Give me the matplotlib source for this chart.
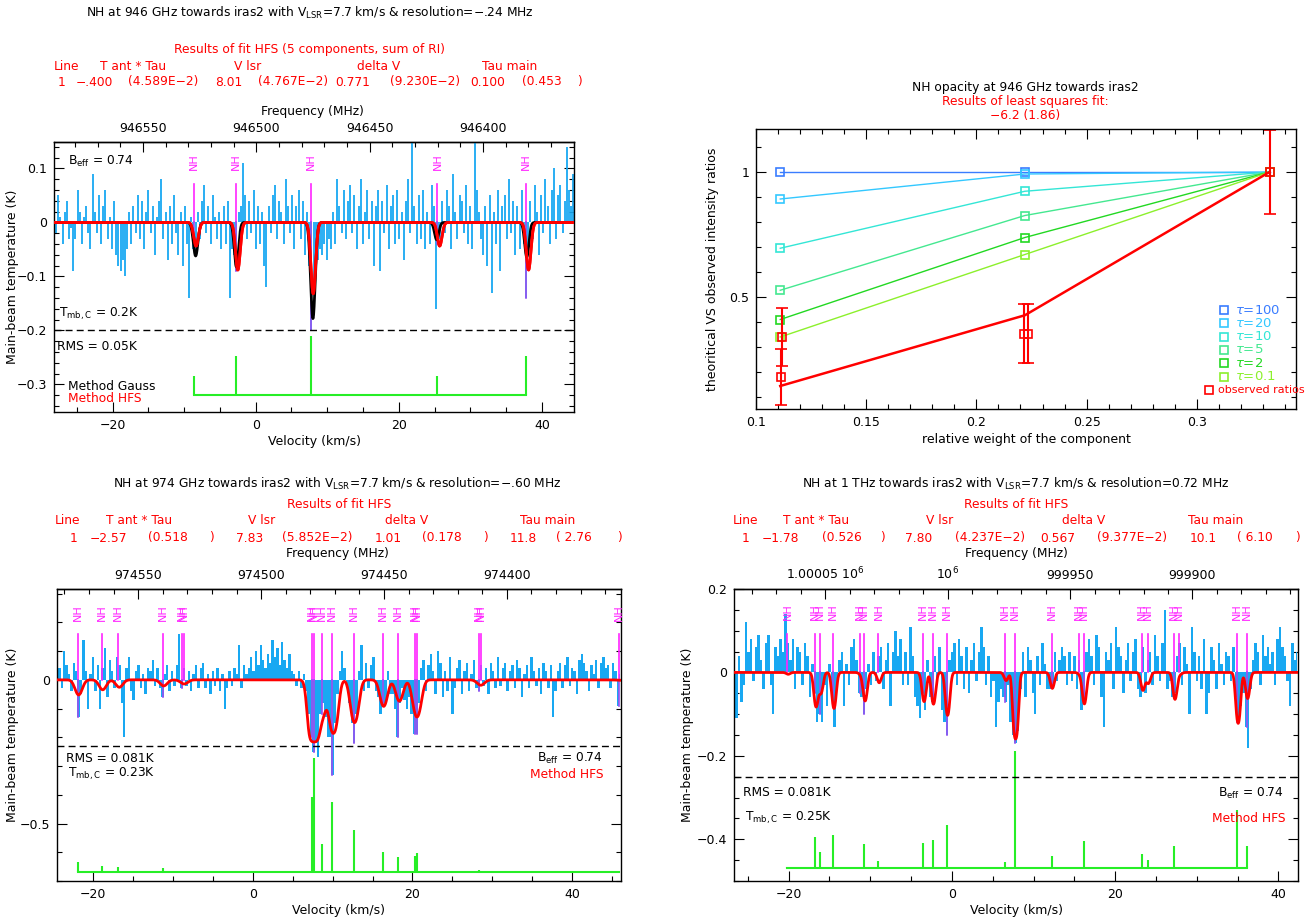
import numpy as np
import matplotlib
matplotlib.use('Agg')
import matplotlib.pyplot as plt
from matplotlib.ticker import MultipleLocator, FuncFormatter

W, H = 1305, 917                  # output size in pixels
plt.rcParams['font.family'] = 'DejaVu Sans'
plt.rcParams['font.size'] = 9
plt.rcParams['axes.linewidth'] = 1.0

BLUE = '#18a8f2'
MAGENTA = '#ff24ff'
PURPLE = '#9a50f0'
GREEN = '#26ee26'
RED = '#ff0000'

# ---------------- NH at 946 GHz (top left) ----------------
tl_v0, tl_dv = -28.2, 0.3                     # first channel and channel width (km/s)
tl_tmb = np.array([                           # channel temperatures, 0.01 K
    3, -2, 5, 1, -4, 2, 4, -3, -1, -9,
    -3, 6, 2, -4, 1, 3, -2, -5, 9, 2,
    -2, 5, -4, 3, 6, -3, 1, -5, 4, -6,
    -8, -9, -7, -10, -5, 2, -4, 3, -2, 5,
    -3, 4, -5, 2, 6, -2, 3, -6, 1, 4,
    8, -3, 2, -7, 3, -4, 5, -2, -6, 2,
    -8, 3, -4, -14, 1, -5, -6, 2, -3, 4,
    7, -2, 3, -4, 5, 1, -3, 2, -5, 3,
    -4, 4, -14, -5, -6, -9, 2, 3, 11, 5,
    -3, 4, -2, 6, -5, 3, -4, 2, -8, -12,
    3, -2, 5, 7, -3, 4, 2, -4, 8, 3,
    -2, 5, -5, 3, 6, -3, 4, -6, 2, -8,
    -20, -12, -6, -7, -5, -6, -4, -7, -3, -5,
    2, -4, 8, 3, -2, 6, -3, 4, 7, -2,
    5, -5, 3, 8, -4, 2, 6, -3, 4, -8,
    3, 6, -9, 4, -2, 7, -5, 3, 5, -4,
    6, -3, 2, -7, 4, 8, -2, 15, 3, -4,
    5, -3, 6, -5, 2, -4, 7, 3, -16, -4,
    -3, 4, -2, 6, 3, -5, 9, 2, -3, 5,
    4, -2, 7, -4, 3, -5, 15, 6, 2, -3,
    -6, 3, -8, 5, -13, 2, -4, 6, -9, 3,
    5, -3, 8, -2, 4, -6, 3, -5, 6, -4,
    -14, -5, 4, -3, 7, 2, -6, 5, -2, 8,
    3, -4, 6, 10, -3, 5, 7, -2, 4, 14,
    6, 3, 9]) * 0.01
tl_comp_v = [-8.65, -2.81, 7.73, 25.41, 37.84]          # hyperfine components (km/s)
tl_comp_ri = [0.036, 0.073, 0.110, 0.036, 0.073]         # stick heights (K)
tl_hfs = (-0.400, 8.01, 0.771, 0.100)                    # T ant*Tau, V lsr, delta V, Tau main
tl_gauss_v = [-8.4, -2.7, 8.0, 25.3, 37.9]
tl_gauss_t = [-0.062, -0.082, -0.178, -0.032, -0.064]
tl_gauss_w = [0.75, 0.70, 0.75, 0.70, 0.70]

# ---------------- NH at 974 GHz (bottom left) ----------------
bl_v0, bl_dv = -24.5, 0.3
bl_tmb = np.array([
    7, 4, -3, 10, 5, 2, -4, 6, 3, -13,
    -5, 14, 3, -10, 2, 8, -4, 5, -10, 4,
    11, -6, 7, 3, -3, 8, 5, -8, -20, 4,
    8, -4, -7, 3, 5, -3, 2, -5, 4, 3,
    7, -2, 4, -3, -6, 2, 5, -4, 3, -2,
    5, 16, -3, 4, -2, 3, -4, 2, 5, -3,
    4, 6, -3, 2, -5, 3, -2, 4, -4, 2,
    -10, -3, 3, -2, 4, 2, 12, -3, 5, 2,
    4, 8, 3, 10, 5, 12, 7, 4, 9, 6,
    14, 8, 11, 5, 13, 7, 4, 9, 3, 2,
    -2, 3, -3, 2, -4, -12, -20, -25, -22, -27,
    -12, -8, -13, -20, -20, -33, -15, -5, 3, 10,
    4, -3, -8, -15, -22, -12, 3, 12, -4, 6,
    -3, 5, 8, -4, -6, -12, -9, -8, 3, -5,
    -5, -10, -20, -8, -3, -7, -10, -6, -12, -19,
    -19, -8, 4, 7, -4, 5, 9, 3, -5, 10,
    6, -6, 3, -4, 8, -12, -3, 4, 7, -5,
    3, 6, -4, 2, 7, -3, -4, 5, -2, 4,
    -5, 6, 3, -3, 8, -2, 4, 6, -4, 3,
    5, -3, 7, 4, -6, 2, 5, -3, 8, 3,
    -2, 4, -5, 6, 3, -3, 5, -13, -4, 3,
    6, -3, 5, 8, -2, 4, 3, -5, 7, 9,
    6, 3, -4, 5, 2, 7, -3, 6, 8, 4,
    5, -3, 6, 3, -9, 2]) * 0.01
bl_comp_v = [-21.92, -18.91, -16.83, -11.27, -8.83, -8.62, 7.38, 7.64, 8.62,
             9.97, 12.62, 16.26, 18.23, 20.26, 20.57, 28.31, 28.57, 45.82]
bl_comp_ri = [0.035, 0.022, 0.016, 0.013, 0.004, 0.005, 0.260, 0.396, 0.097,
              0.245, 0.146, 0.070, 0.053, 0.055, 0.067, 0.007, 0.005, 0.001]
bl_hfs = (-2.57, 7.83, 1.01, 11.8)

# ---------------- NH at 1 THz (bottom right) ----------------
br_v0, br_dv = -26.7, 0.3
br_tmb = np.array([
    -9, -11, 4, -7, -3, 12, 5, 8, -2, 6,
    9, 3, -4, 7, 9, -3, -10, 6, 4, 8,
    5, 14, 7, 3, 8, -4, 6, 5, -3, 7,
    4, -6, 2, -5, -12, -10, -12, -3, -8, 2,
    -6, -13, -4, 3, 5, -8, 2, -3, 6, 8,
    3, -5, -6, -10, -4, 2, -3, 5, -2, 4,
    6, -4, 3, 7, -8, 5, 10, 4, 8, -3,
    5, -3, 11, 4, -6, -8, -11, -5, -9, 3,
    -6, -7, 4, -3, 6, -9, -12, -15, 3, 5,
    7, -3, 8, 4, -4, 6, -5, 3, 7, -2,
    5, 11, 6, -3, 4, -6, -2, -13, -7, -4,
    -6, -7, -3, -12, -15, -17, -14, -4, 5, -6,
    6, 3, -5, -10, 4, -3, 7, 2, -4, -4,
    -3, 5, -2, 3, 6, 4, -3, 5, -2, 4,
    -4, 3, -9, -7, 5, 8, 4, -3, 9, 6,
    -6, -13, 5, 3, 7, -4, 11, 6, 4, -5,
    3, 7, -2, 5, 8, -4, -6, 6, -5, 3,
    5, -3, 9, 4, -2, 7, 15, -4, -2, -6,
    -5, 4, 7, -3, 6, 2, -10, 11, 5, -2,
    4, -4, 8, -10, -5, 6, 3, -4, 7, 2,
    -3, 5, 4, -2, 6, -6, -12, -8, -5, -13,
    -18, -4, 3, 7, 5, -3, 9, 4, 6, 2,
    5, -3, 8, 11, 6, 4, -2, -8, 7, 3,
    5]) * 0.01
br_comp_v = [-20.16, -16.75, -16.13, -14.55, -11.26, -10.73, -9.01, -3.51, -2.36,
             -0.63, 6.54, 7.70, 12.20, 15.60, 16.13, 23.30, 23.98, 27.23, 27.85,
             34.97, 36.13]
br_comp_ri = [0.003, 0.074, 0.038, 0.080, 0.003, 0.058, 0.018, 0.060, 0.067,
              0.104, 0.014, 0.280, 0.029, 0.003, 0.066, 0.033, 0.019, 0.054, 0.003,
              0.140, 0.052]
br_hfs = (-1.78, 7.80, 0.567, 10.1)

# ---------------- opacity plot (top right) ----------------
tr_weight = [0.111, 0.222, 0.333]
tr_tau = ['100', '20', '10', '5', '2', '0.1']
tr_ratio = [[1.000, 1.000, 1.0],
            [0.892, 0.992, 1.0],
            [0.695, 0.923, 1.0],
            [0.527, 0.826, 1.0],
            [0.410, 0.738, 1.0],
            [0.340, 0.670, 1.0]]
tr_colors = ['#3a7dff', '#33c8ff', '#33e6d6', '#44e890', '#22d822', '#8cf02c']
obs_x = [0.1112, 0.1118, 0.2215, 0.2232, 0.3332]
obs_y = [0.181, 0.340, 0.354, 0.354, 1.0]
obs_err = [0.113, 0.117, 0.117, 0.117, 0.169]
fit_y = [0.144, 0.427, 1.0]

fig = plt.figure(figsize=(W / 100, H / 100), dpi=100)


def ftext(x, y, s, **kw):
    # place text with pixel coordinates of the reference picture
    kw.setdefault('va', 'center')
    kw.setdefault('fontsize', 8.8)
    fig.text(x / W, 1 - y / H, s, **kw)


def make_axes(x0, y0, x1, y1):
    ax = fig.add_axes([x0 / W, 1 - y1 / H, (x1 - x0) / W, (y1 - y0) / H])
    ax.px = (x0, x1)
    return ax


def ylabel_at(ax, text, xpx):
    # y label centred at a given pixel column
    ax.set_ylabel(text, va='center')
    x0, x1 = ax.px
    ax.yaxis.set_label_coords((xpx - x0) / (x1 - x0), 0.5)


def fmt_num(x, pos):
    s = '%.6g' % x
    if s in ('0', '-0'):
        return '0'
    return s.replace('-', '\u2212')


def style_axes(ax, xmaj, xmin, ymaj, ymin, top=True):
    ax.xaxis.set_major_locator(MultipleLocator(xmaj))
    ax.xaxis.set_minor_locator(MultipleLocator(xmin))
    ax.yaxis.set_major_locator(MultipleLocator(ymaj))
    ax.yaxis.set_minor_locator(MultipleLocator(ymin))
    ax.xaxis.set_major_formatter(FuncFormatter(fmt_num))
    ax.yaxis.set_major_formatter(FuncFormatter(fmt_num))
    ax.tick_params(which='both', direction='in', top=top, right=True, width=0.8, labelsize=9)
    ax.tick_params(which='major', length=7, pad=5)
    ax.tick_params(which='minor', length=3.5)


def hfs_profile(v, comp_v, comp_ri, tant_tau, vlsr, dv, tau_main):
    # HFS model: relative intensities normalised to one, shifted to the fitted V lsr
    ri = np.array(comp_ri) / np.sum(comp_ri)
    sig = dv / 2.3548
    tau = np.zeros_like(v)
    for c, r in zip(comp_v, ri):
        tau += tau_main * r * np.exp(-0.5 * ((v - c - (vlsr - 7.7)) / sig) ** 2)
    return tant_tau / tau_main * (1 - np.exp(-tau))


def draw_spectrum(ax, v0, dv, tmb, comp_v, comp_ri, hfs, base, mag_top, nh_y, tmbc, thin):
    v = v0 + dv * np.arange(len(tmb))
    if thin:
        ax.vlines(v, 0, tmb, color=BLUE, lw=1.3, zorder=2)
    else:
        ax.fill_between(v, tmb, 0, step='mid', color=BLUE, lw=0, zorder=2)
    for c in comp_v:
        low = min(0, tmb[np.argmin(np.abs(v - c))])
        ax.plot([c, c], [0, mag_top], color=MAGENTA, lw=1.2, zorder=3)
        ax.plot([c, c], [low, 0], color=PURPLE, lw=1.2, zorder=3)
        ax.text(c, nh_y, 'NH', rotation=90, color=MAGENTA, fontsize=8,
                ha='center', va='center', zorder=3)
    # stick spectrum of the hyperfine components
    ax.plot([min(comp_v), max(comp_v)], [base, base], color=GREEN, lw=1.5, zorder=3)
    ax.vlines(comp_v, base, base + np.array(comp_ri), color=GREEN, lw=1.5, zorder=3)
    vv = np.linspace(ax.get_xlim()[0], ax.get_xlim()[1], 3000)
    ax.plot(vv, hfs_profile(vv, comp_v, comp_ri, *hfs), color=RED, lw=2, zorder=5)
    ax.axhline(-tmbc, color='k', ls=(0, (5, 3)), lw=1, zorder=4)
    ax.set_xlabel('Velocity (km/s)', labelpad=2)


def freq_axis(ax, f0, k, ticks, labels=None):
    sec = ax.secondary_xaxis('top', functions=(lambda v: f0 - k * v, lambda f: (f0 - f) / k))
    if labels is None:
        sec.set_xticks(ticks, ['%d' % t for t in ticks])
    else:
        sec.set_xticks(ticks, labels)
    sec.xaxis.set_minor_locator(MultipleLocator(10))
    sec.tick_params(which='both', direction='in', width=0.8, labelsize=9)
    sec.tick_params(which='major', length=7, pad=5)
    sec.tick_params(which='minor', length=3.5)
    return sec


# ================= top left =================
ax1 = make_axes(54, 142, 574, 412)
ax1.set_xlim(-28.2, 44.5)
ax1.set_ylim(-0.351, 0.149)
style_axes(ax1, 20, 5, 0.1, 0.02, top=False)
draw_spectrum(ax1, tl_v0, tl_dv, tl_tmb, tl_comp_v, tl_comp_ri, tl_hfs,
              -0.32, 0.072, 0.112, 0.2, thin=True)
ylabel_at(ax1, 'Main-beam temperature (K)', 13)
vv = np.linspace(-28.2, 44.5, 3000)
gauss = np.zeros_like(vv)
for c, t, w in zip(tl_gauss_v, tl_gauss_t, tl_gauss_w):
    gauss += t * np.exp(-0.5 * ((vv - c) / (w / 2.3548)) ** 2)
ax1.plot(vv, gauss, color='k', lw=2, zorder=4)
ax1.plot(vv, hfs_profile(vv, tl_comp_v, tl_comp_ri, *tl_hfs), color=RED, lw=2, zorder=5)
freq_axis(ax1, 946500.3, 3.157, [946550, 946500, 946450, 946400])
ftext(312, 112, 'Frequency (MHz)', ha='center')
ftext(68, 161, 'B$_{\\rm eff}$ = 0.74')
ftext(59, 314, 'T$_{\\rm mb,C}$ = 0.2K')
ftext(57, 347, 'RMS = 0.05K')
ftext(68, 386, 'Method Gauss')
ftext(68, 398, 'Method HFS', color=RED)

ftext(310, 13, 'NH at 946 GHz towards iras2 with V$_{\\rm LSR}$=7.7 km/s & resolution=\u2212.24 MHz',
      ha='center')
ftext(310, 50, 'Results of fit HFS (5 components, sum of RI)', ha='center', color=RED)
for x, s in [(54, 'Line'), (100, 'T ant * Tau'), (234, 'V lsr'), (357, 'delta V'), (482, 'Tau main')]:
    ftext(x, 66, s, color=RED)
for x, s in [(58, '1'), (76, '\u2212.400'), (128, '(4.589E\u22122)'), (215, '8.01'),
             (258, '(4.767E\u22122)'), (335, '0.771'), (390, '(9.230E\u22122)'),
             (470, '0.100'), (522, '(0.453'), (577, ')')]:
    ftext(x, 82, s, color=RED)

# ================= top right =================
ax2 = make_axes(756, 129, 1296, 409)
ax2.set_xlim(0.1, 0.345)
ax2.set_ylim(0.052, 1.172)
style_axes(ax2, 0.05, 0.01, 0.5, 0.1)
for ratio, col in zip(tr_ratio, tr_colors):
    ax2.plot(tr_weight, ratio, color=col, lw=1, marker='s', ms=5.5, mfc='none', mew=1.2)
ax2.plot(tr_weight, fit_y, color=RED, lw=1.8)
ax2.errorbar(obs_x, obs_y, yerr=obs_err, fmt='s', ms=5.5, mfc='none', mec=RED, mew=1.2,
             ecolor=RED, elinewidth=1.5, capsize=4, capthick=1.5)
ax2.set_xlabel('relative weight of the component', labelpad=3)
ylabel_at(ax2, 'theoritical VS observed intensity ratios', 712)
ftext(1025, 88, 'NH opacity at 946 GHz towards iras2', ha='center')
ftext(1025, 102, 'Results of least squares fit:', ha='center', color=RED)
ftext(1025, 116, '\u22126.2 (1.86)', ha='center', color=RED)
for i, (t, col) in enumerate(zip(tr_tau, tr_colors)):
    y = 310 + 13.3 * i
    ax2.plot([1224 / W], [1 - y / H], 's', ms=5.5, mfc='none', mec=col, mew=1.2,
             transform=fig.transFigure, clip_on=False)
    ftext(1235, y, '$\\tau$=' + t, color=col, fontsize=9.5)
ax2.plot([1209 / W], [1 - 390 / H], 's', ms=5.5, mfc='none', mec=RED, mew=1.2,
         transform=fig.transFigure, clip_on=False)
ftext(1218, 390, 'observed ratios', color=RED, fontsize=8)

# ================= bottom left =================
ax3 = make_axes(57, 589, 621, 881)
ax3.set_xlim(-24.5, 46.1)
ax3.set_ylim(-0.70, 0.316)
style_axes(ax3, 20, 5, 0.5, 0.1, top=False)
draw_spectrum(ax3, bl_v0, bl_dv, bl_tmb, bl_comp_v, bl_comp_ri, bl_hfs,
              -0.669, 0.16, 0.233, 0.23, thin=False)
ylabel_at(ax3, 'Main-beam temperature (K)', 13)
freq_axis(ax3, 974503.4, 3.2506, [974550, 974500, 974450, 974400])
ftext(337, 553, 'Frequency (MHz)', ha='center')
ftext(66, 758, 'RMS = 0.081K')
ftext(68, 774, 'T$_{\\rm mb,C}$ = 0.23K')
ftext(603, 758, 'B$_{\\rm eff}$ = 0.74', ha='right')
ftext(603, 775, 'Method HFS', ha='right', color=RED)
ftext(337, 484, 'NH at 974 GHz towards iras2 with V$_{\\rm LSR}$=7.7 km/s & resolution=\u2212.60 MHz',
      ha='center')
ftext(339, 505, 'Results of fit HFS', ha='center', color=RED)
for x, s in [(55, 'Line'), (106, 'T ant * Tau'), (248, 'V lsr'), (385, 'delta V'), (520, 'Tau main')]:
    ftext(x, 521, s, color=RED)
for x, s in [(70, '1'), (90, '\u22122.57'), (148, '(0.518'), (209, ')'), (236, '7.83'),
             (282, '(5.852E\u22122)'), (375, '1.01'), (422, '(0.178'), (483, ')'),
             (510, '11.8'), (556, '( 2.76'), (617, ')')]:
    ftext(x, 538, s, color=RED)

# ================= bottom right =================
ax4 = make_axes(734, 589, 1298, 881)
ax4.set_xlim(-26.7, 42.4)
ax4.set_ylim(-0.50, 0.2)
style_axes(ax4, 20, 5, 0.2, 0.05, top=False)
draw_spectrum(ax4, br_v0, br_dv, br_tmb, br_comp_v, br_comp_ri, br_hfs,
              -0.469, 0.092, 0.146, 0.25, thin=False)
ylabel_at(ax4, 'Main-beam temperature (K)', 688)
freq_axis(ax4, 999998.3, 3.3356, [1000050, 1000000, 999950, 999900],
          ['1.00005 10$^6$', '10$^6$', '999950', '999900'])
ftext(1016, 553, 'Frequency (MHz)', ha='center')
ftext(743, 793, 'RMS = 0.081K')
ftext(745, 818, 'T$_{\\rm mb,C}$ = 0.25K')
ftext(1284, 793, 'B$_{\\rm eff}$ = 0.74', ha='right')
ftext(1286, 818, 'Method HFS', ha='right', color=RED)
ftext(1016, 484, 'NH at 1 THz towards iras2 with V$_{\\rm LSR}$=7.7 km/s & resolution=0.72 MHz',
      ha='center')
ftext(1016, 505, 'Results of fit HFS', ha='center', color=RED)
for x, s in [(733, 'Line'), (783, 'T ant * Tau'), (926, 'V lsr'), (1062, 'delta V'), (1188, 'Tau main')]:
    ftext(x, 521, s, color=RED)
for x, s in [(742, '1'), (762, '\u22121.78'), (822, '(0.526'), (880, ')'), (905, '7.80'),
             (955, '(4.237E\u22122)'), (1040, '0.567'), (1097, '(9.377E\u22122)'),
             (1190, '10.1'), (1237, '( 6.10'), (1295, ')')]:
    ftext(x, 538, s, color=RED)

fig.savefig('out.png', dpi=100)
